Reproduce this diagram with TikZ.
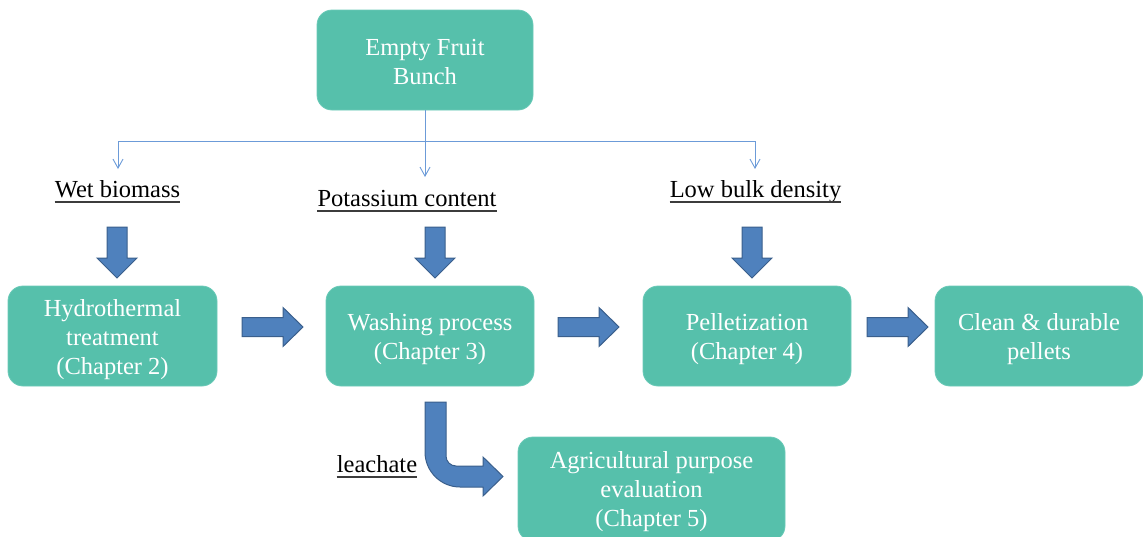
\documentclass[tikz,border=0pt]{standalone}
\usepackage{fontspec}
\setmainfont{Liberation Serif}
\usetikzlibrary{arrows.meta}
\definecolor{boxteal}{HTML}{56C0AB}
\definecolor{boxedge}{HTML}{6CCAB8}
\definecolor{blkfill}{HTML}{4F81BD}
\definecolor{blkedge}{HTML}{3A5F8C}
\definecolor{thinblue}{HTML}{6C9BD8}
\definecolor{ulgray}{HTML}{3C3C3C}
\tikzset{
  stagebox/.style={draw=boxedge, fill=boxteal, rounded corners=15pt, line width=0.8pt, inner sep=0pt},
  stagetext/.style={text=white, align=center, inner sep=0pt,
    font=\fontsize{24.5}{29}\selectfont},
  lbl/.style={text=black, inner sep=0pt, anchor=base, font=\fontsize{24.5}{29}\selectfont},
  ul/.style={draw=ulgray, line width=1.4pt},
  blk/.style={fill=blkfill, draw=blkedge, line width=1pt, line join=miter},
  thinconn/.style={draw=thinblue, line width=0.9pt},
  thinarr/.style={thinconn, -{Straight Barb[length=9pt,width=10pt,line width=0.9pt]}}
}
\newcommand{\blkdown}[3]{% x, ytop, ytip
  \draw[blk] (#1-10,#2) -- (#1+10,#2) -- (#1+10,#3-20) -- (#1+20,#3-20) -- (#1,#3)
    -- (#1-20,#3-20) -- (#1-10,#3-20) -- cycle;}
\newcommand{\blkright}[3]{% xleft, xtip, y
  \draw[blk] (#1,#3-9.5) -- (#2-20,#3-9.5) -- (#2-20,#3-19.5) -- (#2,#3) -- (#2-20,#3+19.5)
    -- (#2-20,#3+9.5) -- (#1,#3+9.5) -- cycle;}
\newcommand{\ulabel}[1]{\draw[ul] ([yshift=-4.3pt]#1.base west) -- ([yshift=-4.3pt]#1.base east);}
\begin{document}
\begin{tikzpicture}[x=1pt,y=-1pt]
\useasboundingbox (0,0) rectangle (1143,536);
% boxes
\node[stagebox, minimum width=216pt, minimum height=100pt] (efb) at (425,60) {};
\node[stagebox, minimum width=209pt, minimum height=100pt] (hydro) at (112.5,336) {};
\node[stagebox, minimum width=208pt, minimum height=100pt] (wash) at (430,336) {};
\node[stagebox, minimum width=208pt, minimum height=100pt] (pellet) at (747,336) {};
\node[stagebox, minimum width=208pt, minimum height=100pt] (clean) at (1039,336) {};
\node[stagebox, minimum width=267pt, minimum height=104pt] (agri) at (651.5,489) {};
% box texts
\node[stagetext] (efbtxt) at ([yshift=-2.5pt]efb.center) {Empty Fruit\\Bunch};
\node[stagetext] (hydrotxt) at ([yshift=-3.5pt]hydro.center) {Hydrothermal\\treatment\\(Chapter 2)};
\node[stagetext] (washtxt) at ([yshift=-3.5pt]wash.center) {Washing process\\(Chapter 3)};
\node[stagetext] (pellettxt) at ([yshift=-3.5pt]pellet.center) {Pelletization\\(Chapter 4)};
\node[stagetext] (cleantxt) at ([yshift=-3.5pt]clean.center) {Clean \& durable\\pellets};
\node[stagetext] (agritxt) at ([yshift=-2.5pt]agri.center) {Agricultural purpose\\evaluation\\(Chapter 5)};
% labels
\node[lbl] (wet) at (117.5,197.7) {Wet biomass};
\node[lbl] (pot) at (407,206.7) {Potassium content};
\node[lbl] (low) at (755.5,197.7) {Low bulk density};
\node[lbl] (leach) at (377,472.5) {leachate};
\ulabel{wet}
\ulabel{pot}
\ulabel{low}
\ulabel{leach}
% thin connectors
\coordinate (jn) at (425,141);
\coordinate (jl) at (118,141);
\coordinate (jr) at (755,141);
\coordinate (tl) at (118,169);
\coordinate (tm) at (425,177);
\coordinate (tr) at (755,169);
\draw[thinconn] (efb.south) -- (jn);
\draw[thinconn] (jl) -- (jr);
\draw[thinarr] (jl) -- (tl);
\draw[thinarr] (jn) -- (tm);
\draw[thinarr] (jr) -- (tr);
% block arrows
\blkdown{117}{227}{278}
\blkdown{435}{227}{278}
\blkdown{752}{227}{278}
\blkright{242}{303}{327}
\blkright{558}{619}{327}
\blkright{867}{928}{327}
% bent arrow
\draw[blk] (425,402) -- (446,402) -- (446,456) .. controls (446,461.5) and (450.5,466) .. (456,466)
  -- (483,466) -- (483,457) -- (503,476.5) -- (483,496) -- (483,487) -- (460,487)
  .. controls (440.7,487) and (425,471.3) .. (425,452) -- cycle;
\end{tikzpicture}
\end{document}
